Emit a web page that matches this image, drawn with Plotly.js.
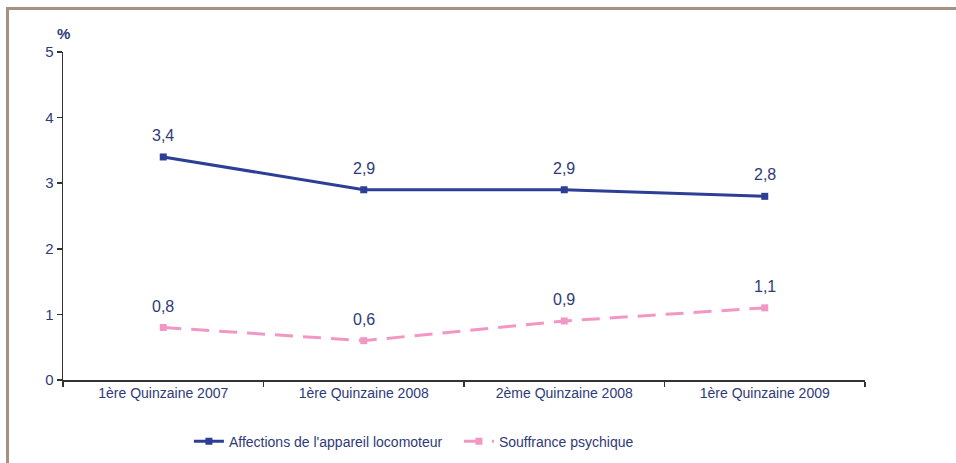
<!DOCTYPE html>
<html>
<head>
<meta charset="utf-8">
<script src="https://cdn.plot.ly/plotly-3.0.1.min.js"></script>
<style>
html,body{margin:0;padding:0;background:#fff;}
#wrap{position:relative;width:956px;height:463px;overflow:hidden;}
#chart{position:absolute;left:0;top:0;width:956px;height:463px;}
#frame{position:absolute;left:6px;top:7px;width:960px;height:470px;border-top:3px solid #a69282;border-left:3px solid #a69282;pointer-events:none;}
</style>
</head>
<body>
<div id="wrap"><div id="chart"></div><div id="frame"></div></div>
<script>
const categories = ["1ère Quinzaine 2007", "1ère Quinzaine 2008", "2ème Quinzaine 2008", "1ère Quinzaine 2009"];
const seriesNames = ["Affections de l'appareil locomoteur", "Souffrance psychique"];
const locomoteur = [3.4, 2.9, 2.9, 2.8];
const psychique = [0.8, 0.6, 0.9, 1.1];
const yTicks = [0, 1, 2, 3, 4, 5];

const fmt = v => v.toFixed(1).replace('.', ',');
const navy = '#2f3a78';
const FONT = 'Liberation Sans, Arial, sans-serif';

const traces = [
  {
    x: categories, y: locomoteur, name: seriesNames[0],
    type: 'scatter', mode: 'lines+markers',
    line: {color: '#2c3e95', width: 3},
    marker: {symbol: 'square', size: 7, color: '#2c3e95'},
    cliponaxis: false
  },
  {
    x: categories, y: psychique, name: seriesNames[1],
    type: 'scatter', mode: 'lines+markers',
    line: {color: '#f297c3', width: 3, dash: '18px,10px'},
    marker: {symbol: 'square', size: 7, color: '#f297c3'},
    cliponaxis: false
  }
];

const labelAnns = [];
[locomoteur, psychique].forEach(arr => {
  arr.forEach((v, i) => {
    labelAnns.push({
      x: categories[i], y: v, xref: 'x', yref: 'y', text: fmt(v),
      showarrow: false, yanchor: 'bottom', yshift: 11,
      font: {family: FONT, size: 16, color: navy}
    });
  });
});

const layout = {
  width: 956, height: 463,
  margin: {l: 63, r: 91, t: 52, b: 83, autoexpand: false},
  paper_bgcolor: '#ffffff', plot_bgcolor: '#ffffff',
  font: {family: FONT, color: navy, size: 14},
  showlegend: true,
  legend: {orientation: 'h', x: 0.157, xanchor: 'left', y: -0.188, yanchor: 'middle',
           font: {size: 14, color: navy}, itemwidth: 30, tracegroupgap: 0,
           entrywidth: 225, entrywidthmode: 'pixels'},
  xaxis: {
    type: 'category', range: [-0.5, 3.5],
    showline: true, linecolor: '#333333', linewidth: 1.5,
    ticks: 'outside', tickson: 'boundaries', ticklen: 5, tickcolor: '#333333', tickwidth: 1.5,
    showgrid: false, zeroline: false,
    tickfont: {size: 14, color: navy}
  },
  yaxis: {
    range: [0, 5], tickvals: yTicks, ticktext: yTicks.map(String),
    showline: true, linecolor: '#333333', linewidth: 1.5,
    ticks: 'outside', ticklen: 5, tickcolor: '#333333', tickwidth: 1.5,
    showgrid: false, zeroline: false,
    tickfont: {size: 15, color: navy}
  },
  annotations: [{
    text: '<b>%</b>', xref: 'paper', yref: 'paper', x: 0, y: 1, xanchor: 'center', yanchor: 'bottom',
    yshift: 8, showarrow: false, font: {size: 15, color: navy}
  }].concat(labelAnns)
};

Plotly.newPlot('chart', traces, layout, {displayModeBar: false, staticPlot: true});
</script>
</body>
</html>
